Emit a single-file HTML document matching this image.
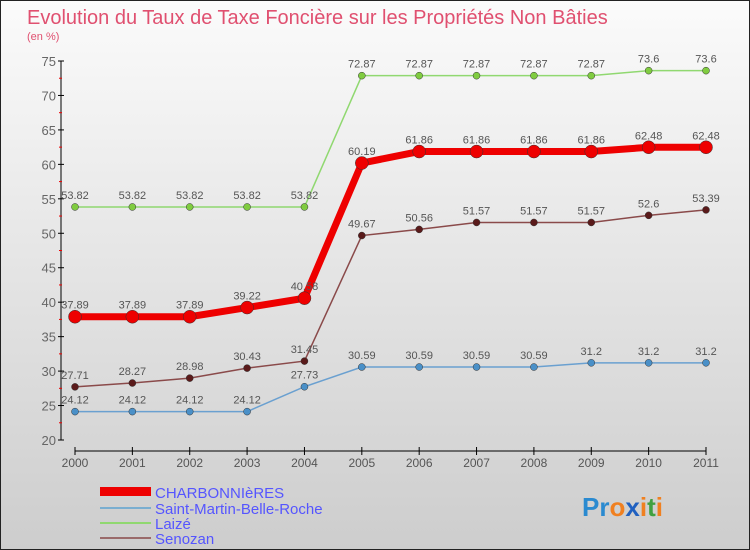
<!DOCTYPE html>
<html><head><meta charset="utf-8"><style>
body{margin:0;}
#c{width:750px;height:550px;position:relative;overflow:hidden;}
text{font-family:"Liberation Sans",sans-serif;}
</style></head><body>
<div id="c">
<svg id="s" width="750" height="550" xmlns="http://www.w3.org/2000/svg">
<defs><linearGradient id="bg" x1="0" y1="0" x2="0" y2="1"><stop offset="0" stop-color="#fbfbfb"/><stop offset="1" stop-color="#cdcdcd"/></linearGradient></defs>
<rect x="0.5" y="0.5" width="749" height="549" fill="url(#bg)" stroke="#222"/>
<text x="27" y="24" font-size="20" fill="#e05070">Evolution du Taux de Taxe Foncière sur les Propriétés Non Bâties</text>
<text x="27" y="40" font-size="11" fill="#e05070">(en %)</text>
<g id="axes"></g><g id="series"></g>
<g>
<rect x="100" y="487" width="51" height="9" fill="#e00"/>
<text x="155" y="498" font-size="15" fill="#55f">CHARBONNIèRES</text>
<line x1="100" y1="508" x2="151" y2="508" stroke="#7aaed0" stroke-width="2"/>
<text x="155" y="514" font-size="15" fill="#55f">Saint-Martin-Belle-Roche</text>
<line x1="100" y1="523" x2="151" y2="523" stroke="#90d870" stroke-width="2"/>
<text x="155" y="529" font-size="15" fill="#55f">Laizé</text>
<line x1="100" y1="538" x2="151" y2="538" stroke="#9a6a6a" stroke-width="2"/>
<text x="155" y="544" font-size="15" fill="#55f">Senozan</text>
</g>
<text x="582" y="516" font-size="26" font-weight="bold"><tspan fill="#2a8ad0">Pr</tspan><tspan fill="#f08020">o</tspan><tspan fill="#2060c0">x</tspan><tspan fill="#f08020">i</tspan><tspan fill="#40a040">t</tspan><tspan fill="#f08020">i</tspan></text>
</svg></div>
<script>
const years=["2000","2001","2002","2003","2004","2005","2006","2007","2008","2009","2010","2011"];
const yTicks=[20,25,30,35,40,45,50,55,60,65,70,75];
const charbonnieres=[37.89,37.89,37.89,39.22,40.58,60.19,61.86,61.86,61.86,61.86,62.48,62.48];
const saintMartin=[24.12,24.12,24.12,24.12,27.73,30.59,30.59,30.59,30.59,31.2,31.2,31.2];
const laize=[53.82,53.82,53.82,53.82,53.82,72.87,72.87,72.87,72.87,72.87,73.6,73.6];
const senozan=[27.71,28.27,28.98,30.43,31.45,49.67,50.56,51.57,51.57,51.57,52.6,53.39];
const NS="http://www.w3.org/2000/svg";
const X=i=>75+i*(706-75)/(years.length-1);
const Y=v=>440-(v-20)*(440-61)/55;
function mk(t,a,p){const e=document.createElementNS(NS,t);for(const k in a)e.setAttribute(k,a[k]);p.appendChild(e);return e;}
const ax=document.getElementById('axes');
const ya=mk('line',{x1:61,y1:Y(75),x2:61,y2:Y(20),stroke:'#000','stroke-width':1},ax);


yTicks.forEach((v,k)=>{
 const l=mk('line',{x1:58,y1:Y(v),x2:64,y2:Y(v),stroke:'#000'},ax);
 
 
 if(k<yTicks.length-1){
 const h=mk('line',{x1:59,y1:Y((v+yTicks[k+1])/2),x2:62,y2:Y((v+yTicks[k+1])/2),stroke:'#e00'},ax);
 
 
 }
 const t=mk('text',{x:56,y:Y(v)+5,'text-anchor':'end','font-size':13,fill:'#666'},ax);t.textContent=v;
 
 
});
const xa=mk('line',{x1:75,y1:451,x2:706,y2:451,stroke:'#000'},ax);


years.forEach((y,i)=>{
 const l=mk('line',{x1:X(i),y1:447,x2:X(i),y2:455,stroke:'#000'},ax);
 
 
 const t=mk('text',{x:X(i),y:467,'text-anchor':'middle','font-size':12,fill:'#555'},ax);t.textContent=y;
 
 
});
const sg=document.getElementById('series');
function series(name,data,color,lw,r,dot){
 const g=mk('g',{},sg);
 
 
 const p=mk('polyline',{points:data.map((v,i)=>X(i)+','+Y(v)).join(' '),fill:'none',stroke:color,'stroke-width':lw},g);
 
 
 data.forEach((v,i)=>{
  const c=mk('circle',{cx:X(i),cy:Y(v),r:r,fill:dot,stroke:'#333','stroke-width':0.5},g);
  
  
  const t=mk('text',{x:X(i),y:Y(v)-8,'text-anchor':'middle','font-size':11,fill:'#555'},g);t.textContent=v;
  
  
 });
}
series('saint-martin',saintMartin,'#6aa0d0',1.5,3.5,'#4a90c8');
series('laize',laize,'#90d870',1.5,3.5,'#80cc40');
series('senozan',senozan,'#8a4a4a',1.5,3.5,'#5a1a1a');
series('charbonnieres',charbonnieres,'#ee0000',7,6.5,'#ee0000');
</script>
</body></html>
